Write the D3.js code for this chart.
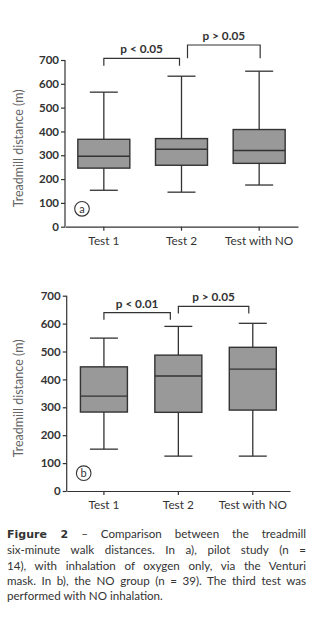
<!DOCTYPE html>
<html><head><meta charset="utf-8">
<script src="https://cdn.jsdelivr.net/npm/d3@7"></script>
<style>
html,body{margin:0;padding:0;background:#fff;width:333px;height:643px;overflow:hidden;}
#wrap{position:relative;width:333px;height:643px;}
svg{position:absolute;left:0;top:0;}
#cap{position:absolute;left:7px;top:526px;width:299px;font-family:Lato,"Open Sans",sans-serif;font-size:11.6px;line-height:15.3px;color:#333;}
#cap div{text-align:justify;text-align-last:justify;white-space:nowrap;}
#cap div.last{text-align-last:left;}
</style></head>
<body><div id="wrap"><svg id="chart" width="333" height="520"></svg><div id="cap"></div></div>
<script>
const categories = ["Test 1", "Test 2", "Test with NO"];
const yTicks = [0, 100, 200, 300, 400, 500, 600, 700];
// Panel a (pilot study)
const aLow  = [153, 145, 175];
const aQ1   = [246, 258, 266];
const aMed  = [296, 325, 320];
const aQ3   = [367, 370, 408];
const aHigh = [565, 632, 653];
const aPLabels = ["p < 0.05", "p > 0.05"];
// Panel b (NO group)
const bLow  = [150, 125, 125];
const bQ1   = [283, 282, 290];
const bMed  = [340, 412, 437];
const bQ3   = [445, 487, 515];
const bHigh = [548, 590, 601];
const bPLabels = ["p < 0.01", "p > 0.05"];
const yLabel = "Treadmill distance (m)";
const captionLines = [
  ["Figure 2", " – Comparison between the treadmill"],
  ["", "six-minute walk distances. In a), pilot study (n ="],
  ["", "14), with inhalation of oxygen only, via the Venturi"],
  ["", "mask. In b), the NO group (n = 39). The third test was"],
  ["", "performed with NO inhalation."]
];

const svg = d3.select("#chart");
const FONT = "Lato, 'Open Sans', sans-serif";

function panel(cfg) {
  const g = svg.append("g");
  const x = d3.scaleBand().domain(categories).range([cfg.x0, cfg.x1]).paddingInner(0).paddingOuter(0);
  const y = d3.scaleLinear().domain([0, 700]).range([cfg.y0, cfg.y1]);
  const cx = c => x(c) + x.bandwidth() / 2;

  // y axis
  const ya = g.append("g").attr("transform", `translate(${cfg.x0},0)`)
    .call(d3.axisLeft(y).tickValues(yTicks).tickSize(4).tickSizeOuter(0).tickPadding(2));
  ya.select(".domain").attr("stroke", "#333").attr("stroke-width", 1.2)
    .attr("d", `M0,${cfg.y0}V${cfg.y1}`);
  ya.selectAll(".tick line").attr("stroke", "#333").attr("stroke-width", 1.2);
  ya.selectAll(".tick text").attr("font-family", FONT).attr("font-weight", "bold")
    .attr("font-size", 11.5).attr("fill", "#333");

  // x axis
  const xa = g.append("g").attr("transform", `translate(0,${cfg.y0})`)
    .call(d3.axisBottom(x).tickSize(4).tickSizeOuter(0).tickPadding(6));
  xa.select(".domain").attr("stroke", "#333").attr("stroke-width", 1.2);
  xa.selectAll(".tick line").attr("stroke", "#333").attr("stroke-width", 1.2);
  xa.selectAll(".tick text").attr("font-family", FONT).attr("font-size", 11.8).attr("fill", "#333");

  // y label
  g.append("text").attr("transform", `translate(${cfg.labelX},${(cfg.y0 + cfg.y1) / 2 + 5}) rotate(-90)`)
    .attr("text-anchor", "middle").attr("font-family", FONT).attr("font-size", 12.5)
    .attr("fill", "#666").text(yLabel);

  // boxes
  const data = categories.map((c, i) => ({c, lo: cfg.lo[i], q1: cfg.q1[i], med: cfg.med[i], q3: cfg.q3[i], hi: cfg.hi[i]}));
  const bg = g.selectAll("g.box").data(data).join("g").attr("class", "box");
  const bw = cfg.boxW, cw = cfg.capW;
  bg.append("line").attr("x1", d => cx(d.c)).attr("x2", d => cx(d.c))
    .attr("y1", d => y(d.lo)).attr("y2", d => y(d.hi)).attr("stroke", "#333").attr("stroke-width", 1.3);
  bg.append("line").attr("x1", d => cx(d.c) - cw / 2).attr("x2", d => cx(d.c) + cw / 2)
    .attr("y1", d => y(d.lo)).attr("y2", d => y(d.lo)).attr("stroke", "#333").attr("stroke-width", 1.3);
  bg.append("line").attr("x1", d => cx(d.c) - cw / 2).attr("x2", d => cx(d.c) + cw / 2)
    .attr("y1", d => y(d.hi)).attr("y2", d => y(d.hi)).attr("stroke", "#333").attr("stroke-width", 1.3);
  bg.append("rect").attr("x", d => cx(d.c) - bw / 2).attr("width", bw)
    .attr("y", d => y(d.q3)).attr("height", d => y(d.q1) - y(d.q3))
    .attr("fill", "#999").attr("stroke", "#333").attr("stroke-width", 1.4);
  bg.append("line").attr("x1", d => cx(d.c) - bw / 2).attr("x2", d => cx(d.c) + bw / 2)
    .attr("y1", d => y(d.med)).attr("y2", d => y(d.med)).attr("stroke", "#333").attr("stroke-width", 1.4);

  // brackets
  cfg.brackets.forEach((b, i) => {
    const xa1 = cx(categories[b.from]) + b.dx1, xa2 = cx(categories[b.to]) + b.dx2;
    g.append("path").attr("d", `M${xa1},${y(b.low)}V${y(b.top)}H${xa2}V${y(b.low)}`)
      .attr("fill", "none").attr("stroke", "#333").attr("stroke-width", 1.2);
    g.append("text").attr("x", (xa1 + xa2) / 2 + b.lx).attr("y", y(b.top) - 5)
      .attr("text-anchor", "middle").attr("font-family", FONT).attr("font-weight", "bold")
      .attr("font-size", 11.8).attr("fill", "#333").text(cfg.pLabels[i]);
  });

  // panel letter
  g.append("circle").attr("cx", cfg.x0 + 17).attr("cy", y(cfg.letterV)).attr("r", 7.3)
    .attr("fill", "none").attr("stroke", "#333").attr("stroke-width", 1.1);
  g.append("text").attr("x", cfg.x0 + 17).attr("y", y(cfg.letterV) + 3.8).attr("text-anchor", "middle")
    .attr("font-family", FONT).attr("font-size", 11).attr("fill", "#333").text(cfg.letter);
}

panel({x0: 65, x1: 298, y0: 226.7, y1: 60, labelX: 23,
  lo: aLow, q1: aQ1, med: aMed, q3: aQ3, hi: aHigh, pLabels: aPLabels,
  boxW: 52, capW: 28, letter: "a", letterV: 75,
  brackets: [{from: 0, to: 1, dx1: 0, dx2: -2, top: 707, low: 676, lx: 0},
             {from: 1, to: 2, dx1: 6, dx2: 1, top: 763, low: 707, lx: 0}]});

panel({x0: 66.7, x1: 290, y0: 491, y1: 295.7, labelX: 23,
  lo: bLow, q1: bQ1, med: bMed, q3: bQ3, hi: bHigh, pLabels: bPLabels,
  boxW: 47, capW: 28, letter: "b", letterV: 64,
  brackets: [{from: 0, to: 1, dx1: 0, dx2: -8, top: 639, low: 614, lx: 0},
             {from: 1, to: 2, dx1: 0, dx2: -4, top: 662, low: 636, lx: 0}]});

const cap = d3.select("#cap");
captionLines.forEach((l, i) => {
  const d = cap.append("div").attr("class", i === captionLines.length - 1 ? "last" : null);
  if (l[0]) d.append("b").style("font-family", "'DejaVu Sans', sans-serif").style("font-size", "11px").text(l[0]);
  d.append("span").text(l[1]);
});
</script></body></html>
